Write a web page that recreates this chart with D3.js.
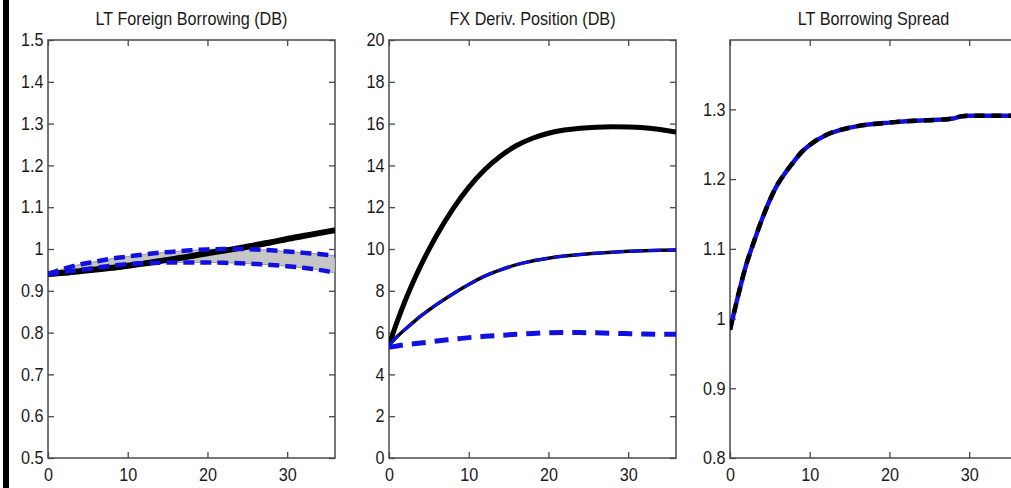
<!DOCTYPE html>
<html>
<head>
<meta charset="utf-8">
<script src="https://cdn.jsdelivr.net/npm/d3@7"></script>
<style>
  html, body { margin: 0; padding: 0; background: #fff; }
  svg { display: block; }
  text { font-family: "Liberation Sans", Arial, sans-serif; fill: #1a1a1a; }
</style>
</head>
<body>
<svg id="chart" width="1011" height="488"></svg>
<script>
// ---- data -------------------------------------------------------------
const xTicks = [0, 10, 20, 30];

// Panel 1: LT Foreign Borrowing (DB)
const horizonA = [0, 2, 4, 6, 8, 10, 12, 14, 16, 18, 20, 22, 24, 26, 28, 30, 32, 34, 36];
const borrowMain  = [0.940, 0.943, 0.947, 0.951, 0.955, 0.960, 0.965, 0.971, 0.977, 0.983, 0.990, 0.996, 1.002, 1.009, 1.016, 1.024, 1.031, 1.038, 1.045];
const borrowUpper = [0.940, 0.953, 0.963, 0.970, 0.977, 0.982, 0.987, 0.991, 0.994, 0.997, 0.999, 1.000, 1.000, 0.999, 0.997, 0.994, 0.991, 0.988, 0.984];
const borrowLower = [0.940, 0.945, 0.950, 0.955, 0.960, 0.964, 0.966, 0.967, 0.968, 0.968, 0.968, 0.967, 0.966, 0.964, 0.962, 0.959, 0.955, 0.950, 0.943];
const borrowTicks = [0.5, 0.6, 0.7, 0.8, 0.9, 1.0, 1.1, 1.2, 1.3, 1.4, 1.5];

// Panel 2: FX Deriv. Position (DB)
const horizonB = [0, 1, 2, 3, 4, 5, 6, 8, 10, 12, 14, 16, 18, 20, 22, 24, 26, 28, 30, 32, 34, 36];
const fxHigh = [5.4, 6.5, 7.5, 8.4, 9.22, 9.97, 10.67, 11.91, 12.95, 13.79, 14.45, 14.95, 15.3, 15.54, 15.69, 15.78, 15.83, 15.85, 15.84, 15.8, 15.72, 15.6];
const fxMid  = [5.4, 5.8, 6.15, 6.48, 6.8, 7.08, 7.35, 7.85, 8.3, 8.7, 9.0, 9.25, 9.43, 9.56, 9.66, 9.74, 9.8, 9.85, 9.89, 9.92, 9.94, 9.95];
const fxLow  = [5.3, 5.36, 5.42, 5.46, 5.5, 5.55, 5.6, 5.68, 5.76, 5.82, 5.87, 5.92, 5.96, 5.99, 6.0, 6.0, 5.99, 5.97, 5.95, 5.93, 5.92, 5.92];
const fxTicks = [0, 2, 4, 6, 8, 10, 12, 14, 16, 18, 20];

// Panel 3: LT Borrowing Spread
const horizonC = [0, 1, 2, 3, 4, 5, 6, 7, 8, 9, 10, 12, 14, 16, 18, 20, 22, 24, 26, 28, 29, 30, 32, 34, 36];
const spread = [0.984, 1.032, 1.076, 1.110, 1.142, 1.170, 1.193, 1.210, 1.225, 1.239, 1.249, 1.263, 1.271, 1.276, 1.279, 1.281, 1.283, 1.284, 1.285, 1.287, 1.290, 1.291, 1.291, 1.291, 1.291];
const spreadTicks = [0.8, 0.9, 1.0, 1.1, 1.2, 1.3];

const titles = ["LT Foreign Borrowing (DB)", "FX Deriv. Position (DB)", "LT Borrowing Spread"];

// ---- layout -----------------------------------------------------------
const svg = d3.select("#chart");
const plotTop = 40, plotBottom = 458, panelW = 287;
const lefts = [48, 389, 730];
const axisColor = "#4a4a4a";
const squeeze = "scale(0.9,1)";
const fmt = d3.format("~g");

// Left edge bar
svg.append("rect").attr("x", 3).attr("y", 0).attr("width", 6).attr("height", 488).attr("fill", "#000");

function panel(i, yDomain, yTicks) {
  const x0 = lefts[i], x1 = x0 + panelW;
  const x = d3.scaleLinear().domain([0, 36]).range([x0, x1]);
  const y = d3.scaleLinear().domain(yDomain).range([plotBottom, plotTop]);
  const g = svg.append("g");

  g.append("clipPath").attr("id", "clip" + i)
    .append("rect").attr("x", x0).attr("y", plotTop).attr("width", panelW).attr("height", plotBottom - plotTop);

  // box
  g.append("rect").attr("x", x0).attr("y", plotTop).attr("width", panelW).attr("height", plotBottom - plotTop)
    .attr("fill", "none").attr("stroke", axisColor).attr("stroke-width", 1.5);

  const styleAxis = sel => {
    sel.select(".domain").remove();
    sel.selectAll(".tick line").attr("stroke", axisColor).attr("stroke-width", 1.3);
    sel.selectAll(".tick text").attr("fill", "#1a1a1a").style("font-size", "18px")
      .attr("transform", squeeze);
  };

  g.append("g").attr("transform", `translate(${x0},0)`)
    .call(d3.axisLeft(y).tickValues(yTicks).tickFormat(fmt).tickSize(-6).tickPadding(5))
    .call(styleAxis);
  g.append("g").attr("transform", `translate(${x1},0)`)
    .call(d3.axisRight(y).tickValues(yTicks).tickFormat("").tickSize(-6))
    .call(styleAxis);
  g.append("g").attr("transform", `translate(0,${plotBottom})`)
    .call(d3.axisBottom(x).tickValues(xTicks).tickFormat(fmt).tickSize(-6).tickPadding(10))
    .call(styleAxis);
  g.append("g").attr("transform", `translate(0,${plotTop})`)
    .call(d3.axisTop(x).tickValues(xTicks).tickFormat("").tickSize(-6))
    .call(styleAxis);

  g.append("text")
    .attr("transform", `translate(${(x0 + x1) / 2},25) ${squeeze}`)
    .attr("text-anchor", "middle").style("font-size", "18px")
    .text(titles[i]);

  const plot = g.append("g").attr("clip-path", `url(#clip${i})`);
  return { x, y, plot };
}

function drawLine(p, xs, ys, color, width, dash) {
  const line = d3.line().x((d, k) => p.x(xs[k])).y(d => p.y(d)).curve(d3.curveMonotoneX);
  p.plot.append("path").datum(ys)
    .attr("d", line).attr("fill", "none")
    .attr("stroke", color).attr("stroke-width", width)
    .attr("stroke-dasharray", dash || null)
    .attr("stroke-linejoin", "round");
}

const blue = "#1010e0";

// ---- panel 1 ----
const p1 = panel(0, [0.5, 1.5], borrowTicks);
const band = d3.area()
  .x((d, k) => p1.x(horizonA[k]))
  .y0((d, k) => p1.y(borrowLower[k]))
  .y1(d => p1.y(d))
  .curve(d3.curveMonotoneX);
p1.plot.append("path").datum(borrowUpper).attr("d", band)
  .attr("fill", "#c6c6c6").attr("stroke", "#9a9a9a").attr("stroke-width", 1);
drawLine(p1, horizonA, borrowMain, "#000", 6);
drawLine(p1, horizonA, borrowUpper, blue, 4.5, "11,6");
drawLine(p1, horizonA, borrowLower, blue, 4.5, "11,6");

// ---- panel 2 ----
const p2 = panel(1, [0, 20], fxTicks);
drawLine(p2, horizonB, fxHigh, "#000", 5);
drawLine(p2, horizonB, fxMid, "#000", 3.5);
drawLine(p2, horizonB, fxMid, blue, 3, "14,5");
drawLine(p2, horizonB, fxLow, blue, 5, "14,9");

// ---- panel 3 ----
const p3 = panel(2, [0.8, 1.3995], spreadTicks);
drawLine(p3, horizonC, spread, blue, 4.5);
drawLine(p3, horizonC, spread, "#000", 4.5, "10,7");
</script>
</body>
</html>
